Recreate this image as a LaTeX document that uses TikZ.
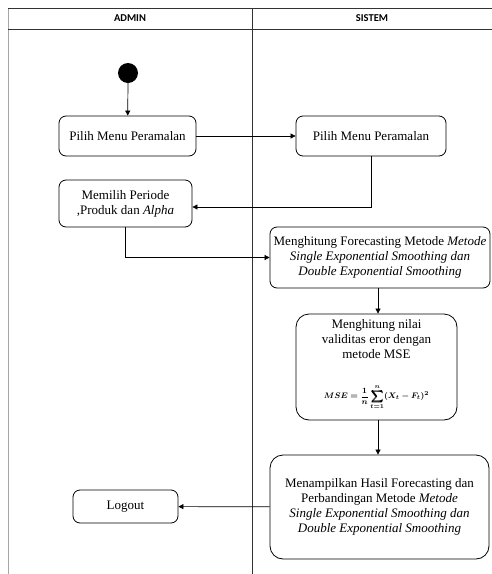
\documentclass[tikz,border=0pt]{standalone}
\usepackage{amsmath,amssymb,bm}
\usepackage{fontspec}
\setmainfont{Liberation Serif}
\newfontfamily\headfont{Carlito}
\usetikzlibrary{arrows.meta, positioning}
\tikzset{
  lane/.style={line width=0.8pt, black!80},
  act/.style={draw, line width=0.8pt, rounded corners=7pt, align=center,
    inner sep=2pt, font=\fontsize{13}{15}\selectfont},
  bigact/.style={act, rounded corners=13pt},
  flow/.style={->, line width=0.7pt}
}
\begin{document}
\begin{tikzpicture}[x=1pt, y=-1pt, >={Triangle[length=5pt, width=5pt]}]

            \useasboundingbox (0,0) rectangle (492,574);

            % swimlanes
            \draw[black!35, line width=0.8pt] (8,8) -- (8,574);
            \draw[lane] (8,8) -- (492,8);
            \draw[lane] (8,29) -- (492,29);
            \draw[lane] (252,8) -- (252,574);
            \node[font=\headfont\bfseries\fontsize{10.5}{12}\selectfont] (admin) at (130,18.5) {ADMIN};
            \node[font=\headfont\bfseries\fontsize{10.5}{12}\selectfont] (sistem) at (372,18.5) {SISTEM};

            % start
            \fill (128,73) circle (10pt);
            \coordinate (start) at (128,83);

            \node[act, minimum width=137pt, minimum height=40pt] (pilihA) at (127.5,136) {Pilih Menu Peramalan};
            \draw[flow] (start) -- (pilihA);

            \node[act, minimum width=150pt, minimum height=40pt] (pilihS) at (371,136) {Pilih Menu Peramalan};
            \draw[flow] (pilihA) -- (pilihS);

            \node[act, minimum width=133pt, minimum height=47pt] (memilih) at (125.5,203.5) {Memilih Periode\\,Produk dan \textit{Alpha}};
            \draw[flow] (pilihS.south) |- (memilih.east |- 0,207);

            \node[act, minimum width=220pt, minimum height=61pt, inner sep=0pt] (hitung) at (380,257.5)
              {Menghitung Forecasting Metode \textit{Metode}\\\textit{Single Exponential Smoothing dan}\\\textit{Double Exponential Smoothing}};
            \draw[flow] (memilih.south) |- (hitung.west);

            \node[bigact, minimum width=161pt, minimum height=106pt] (mse) at (376.5,367) {};
            \node[align=center, inner sep=1pt, font=\fontsize{13}{15}\selectfont, anchor=north] (msetext) at (376.5,318)
              {Menghitung nilai\\validitas eror dengan\\metode MSE};
            \node[inner sep=1pt, font=\fontsize{8}{10}\selectfont] (mserumus) at (376.5,397)
              {$\displaystyle\boldsymbol{MSE=\frac{1}{n}\sum_{t=1}^{n}(X_t-F_t)^2}$};
            \draw[flow] (hitung.south -| 378,0) -- (mse.north -| 378,0);

            \node[bigact, minimum width=219pt, minimum height=104pt, inner sep=0pt] (tampil) at (379.5,507)
              {Menampilkan Hasil Forecasting dan\\Perbandingan Metode \textit{Metode}\\\textit{Single Exponential Smoothing dan}\\\textit{Double Exponential Smoothing}};
            \draw[flow] (mse.south -| 378,0) -- (tampil.north -| 378,0);

            \node[act, minimum width=105pt, minimum height=33pt] (logout) at (125.5,506.5) {Logout};
            \draw[flow] (tampil) -- (logout);

        \end{tikzpicture}
\end{document}
